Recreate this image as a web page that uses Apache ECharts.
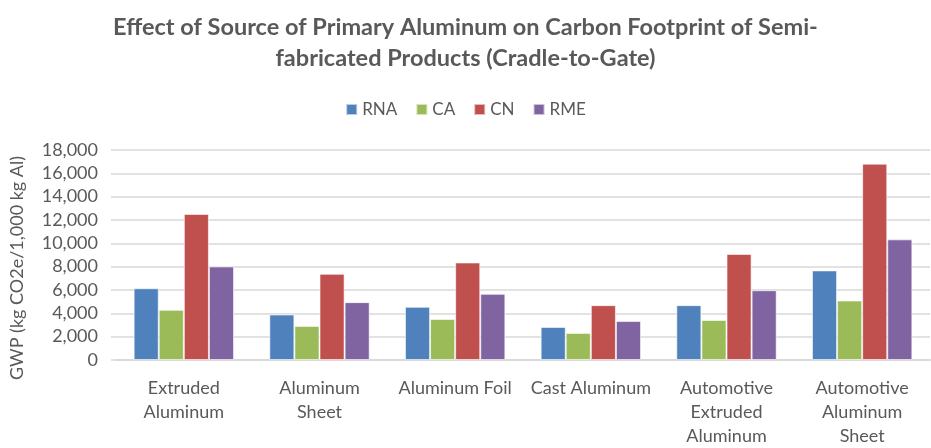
<!DOCTYPE html>
<html>
<head>
<meta charset="utf-8">
<script src="https://cdn.jsdelivr.net/npm/echarts@6/dist/echarts.min.js"></script>
<style>
  html, body { margin: 0; padding: 0; background: #fff; }
  #chart { width: 931px; height: 448px; }
</style>
</head>
<body>
<div id="chart"></div>
<script>
var categories = ['Extruded\nAluminum', 'Aluminum\nSheet', 'Aluminum Foil', 'Cast Aluminum',
  'Automotive\nExtruded\nAluminum', 'Automotive\nAluminum\nSheet'];
var rna = [6150, 3900, 4560, 2830, 4700, 7680];
var ca = [4300, 2920, 3510, 2320, 3430, 5100];
var cn = [12520, 7390, 8360, 4700, 9090, 16830];
var rme = [8020, 4960, 5670, 3340, 5980, 10340];

var font = 'Lato';
var textColor = '#595959';

var chart = echarts.init(document.getElementById('chart'));

function bar(name, data, color) {
  return {
    name: name,
    type: 'bar',
    data: data,
    barGap: '0%',
    barCategoryGap: '26%',
    itemStyle: { color: color, borderColor: 'rgba(255,255,255,0.6)', borderWidth: 1 },
    animation: false
  }
}

chart.setOption({
  title: {
    text: 'Effect of Source of Primary Aluminum on Carbon Footprint of Semi-\nfabricated Products (Cradle-to-Gate)',
    left: 'center',
    top: 7,
    textStyle: { fontFamily: font, fontSize: 23.5, fontWeight: 'bold', color: textColor, lineHeight: 31 }
  },
  legend: {
    top: 96,
    left: 'center',
    itemWidth: 11,
    itemHeight: 11,
    itemGap: 18,
    icon: 'rect',
    textStyle: { fontFamily: font, fontSize: 17, color: textColor }
  },
  graphic: [{
    type: 'text',
    x: 8,
    y: 268,
    rotation: Math.PI / 2,
    style: {
      text: 'GWP (kg CO2e/1,000 kg Al)',
      fill: textColor,
      font: '18px Lato',
      align: 'center',
      verticalAlign: 'top'
    }
  }],
  grid: {
    left: 116,
    right: 1,
    top: 150,
    bottom: 86
  },
  xAxis: {
    type: 'category',
    data: categories,
    axisTick: { show: false },
    axisLine: { lineStyle: { color: '#d9d9d9', width: 2 } },
    axisLabel: { interval: 0, fontFamily: font, fontSize: 18, color: textColor, lineHeight: 24, margin: 16 }
  },
  yAxis: {
    type: 'value',
    min: 0,
    max: 18000,
    interval: 2000,
    axisLine: { show: false },
    axisTick: { show: true, length: 5, lineStyle: { color: '#d9d9d9', width: 1.5 } },
    splitLine: { lineStyle: { color: '#d9d9d9', width: 1.5 } },
    axisLabel: {
      fontFamily: font, fontSize: 18, color: textColor, margin: 18,
      formatter: function (v) { return v.toLocaleString('en-US'); }
    }
  },
  series: [
    bar('RNA', rna, '#4F81BD'),
    bar('CA', ca, '#9BBB59'),
    bar('CN', cn, '#C0504D'),
    bar('RME', rme, '#8064A2')
  ]
});
</script>
</body>
</html>
